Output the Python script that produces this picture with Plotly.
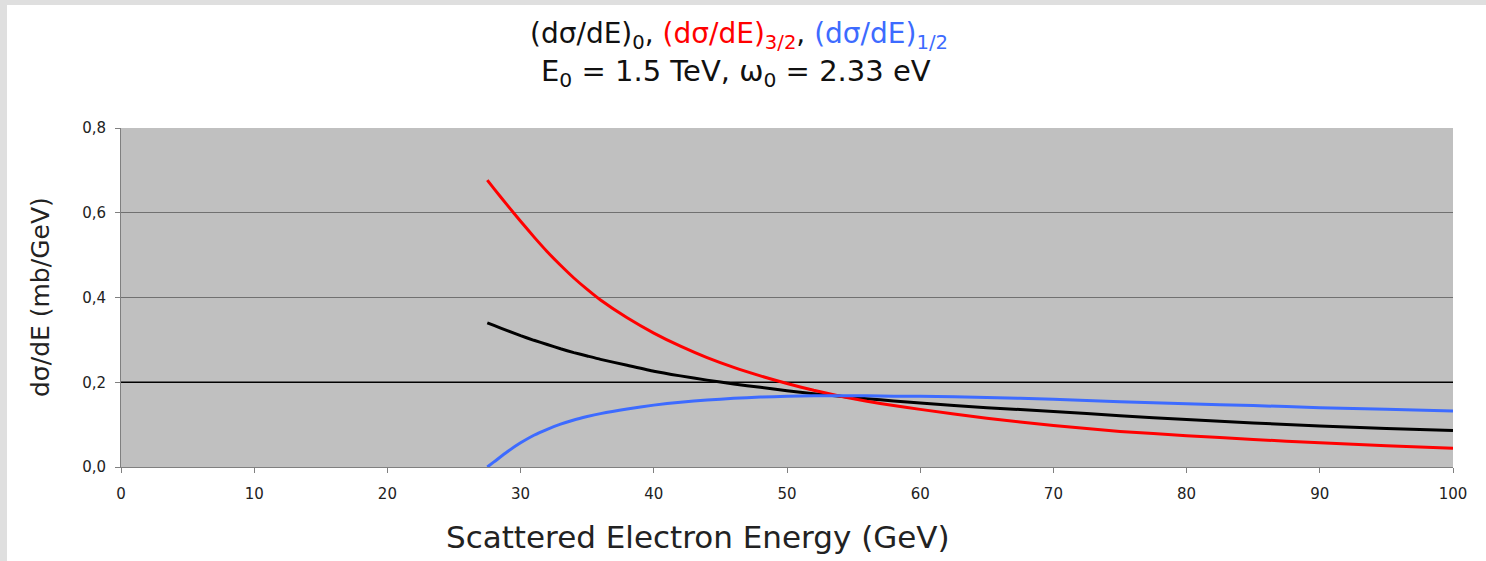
import plotly.graph_objects as go

energy = [27.5, 28, 29, 30, 31, 32, 33, 34, 35, 36, 38, 40, 42, 44, 46, 48, 50,
          52, 54, 56, 58, 60, 65, 70, 75, 80, 85, 90, 95, 100]
sigma_0 = [0.340, 0.334, 0.322, 0.310, 0.299, 0.289, 0.279, 0.270, 0.262, 0.254,
           0.240, 0.226, 0.215, 0.205, 0.196, 0.188, 0.180, 0.173, 0.167, 0.161,
           0.156, 0.151, 0.140, 0.131, 0.121, 0.112, 0.104, 0.097, 0.091, 0.086]
sigma_32 = [0.677, 0.657, 0.618, 0.580, 0.543, 0.508, 0.476, 0.446, 0.419, 0.394,
            0.352, 0.316, 0.285, 0.258, 0.235, 0.215, 0.197, 0.181, 0.167, 0.155,
            0.145, 0.136, 0.115, 0.098, 0.084, 0.074, 0.065, 0.057, 0.050, 0.044]
sigma_12 = [0.000, 0.012, 0.036, 0.057, 0.075, 0.089, 0.101, 0.111, 0.119, 0.126,
            0.137, 0.146, 0.153, 0.158, 0.162, 0.165, 0.167, 0.168, 0.168, 0.168,
            0.167, 0.167, 0.164, 0.160, 0.154, 0.149, 0.145, 0.140, 0.136, 0.132]

x_ticks = list(range(0, 101, 10))
y_ticks = [0.0, 0.2, 0.4, 0.6, 0.8]
ref_level = y_ticks[1]  # the darker reference line at 0,2

RED = "#ff0000"
BLUE = "#3d6bff"
FONT = "DejaVu Sans, Liberation Sans, Arial, sans-serif"

W, H = 1486, 561
ML, MR, MT, MB = 121, 33, 128, 94
PW, PH = W - ML - MR, H - MT - MB

def px_x(p):
    return (p - ML) / PW

def px_y(p):
    return (H - MB - p) / PH

fig = go.Figure()
# dark reference gridline drawn first, beneath the curves
fig.add_trace(go.Scatter(x=[x_ticks[0], x_ticks[-1]], y=[ref_level, ref_level],
                         mode="lines", line=dict(color="#000000", width=1.3),
                         hoverinfo="skip", name="ref"))
line_style = dict(width=3, shape="spline", smoothing=0.5)
fig.add_trace(go.Scatter(x=energy, y=sigma_0, mode="lines",
                         line=dict(color="#000000", **line_style), name="0"))
fig.add_trace(go.Scatter(x=energy, y=sigma_32, mode="lines",
                         line=dict(color=RED, **line_style), name="3/2"))
fig.add_trace(go.Scatter(x=energy, y=sigma_12, mode="lines",
                         line=dict(color=BLUE, **line_style), name="1/2"))

title1 = ("(dσ/dE)<sub>0</sub>, "
          f"<span style='color:{RED}'>(dσ/dE)<sub>3/2</sub></span>, "
          f"<span style='color:{BLUE}'>(dσ/dE)<sub>1/2</sub></span>")
title2 = "E<sub>0</sub> = 1.5 TeV, ω<sub>0</sub> = 2.33 eV"

annotations = [
    dict(text=title1, x=px_x(739), y=px_y(36), xref="paper", yref="paper",
         showarrow=False, font=dict(size=28, color="#111111", family=FONT),
         xanchor="center", yanchor="middle"),
    dict(text=title2, x=px_x(736), y=px_y(73), xref="paper", yref="paper",
         showarrow=False, font=dict(size=29, color="#111111", family=FONT),
         xanchor="center", yanchor="middle"),
    dict(text="Scattered Electron Energy (GeV)", x=px_x(698), y=px_y(537),
         xref="paper", yref="paper", showarrow=False,
         font=dict(size=31, color="#222222", family=FONT),
         xanchor="center", yanchor="middle"),
    dict(text="dσ/dE (mb/GeV)", x=px_x(40), y=px_y(297), xref="paper",
         yref="paper", showarrow=False, textangle=-90,
         font=dict(size=25, color="#222222", family=FONT),
         xanchor="center", yanchor="middle"),
]

fig.update_layout(
    width=W, height=H,
    margin=dict(l=ML, r=MR, t=MT, b=MB),
    paper_bgcolor="#ffffff",
    plot_bgcolor="#c0c0c0",
    showlegend=False,
    separators=", ",
    font=dict(family=FONT, size=14, color="#222222"),
    annotations=annotations,
)
fig.update_xaxes(range=[0, 100], tickvals=x_ticks, showgrid=False,
                 zeroline=False, showline=True, linecolor="#808080", linewidth=1,
                 ticks="outside", ticklen=5, tickcolor="#808080",
                 ticklabelstandoff=8,
                 tickfont=dict(size=15, color="#222222", family=FONT))
fig.update_yaxes(range=[0, 0.8], tickvals=y_ticks, tickformat=".1f",
                 showgrid=True, gridcolor="#707070", gridwidth=1,
                 zeroline=False, showline=True, linecolor="#808080", linewidth=1,
                 ticks="outside", ticklen=5, tickcolor="#808080",
                 ticklabelstandoff=6,
                 tickfont=dict(size=15, color="#222222", family=FONT))

# page tweaks: no body margin, thin grey frame on top and left edges
post = (
    "document.body.style.margin='0px';"
    "document.body.style.padding='0px';"
    "document.body.style.overflow='hidden';"
    "var t=document.createElement('div');"
    "t.style.cssText='position:fixed;left:0;top:0;width:100%;height:5px;"
    "background:#dfdfdf;z-index:10;pointer-events:none';"
    "document.body.appendChild(t);"
    "var l=document.createElement('div');"
    "l.style.cssText='position:fixed;left:0;top:0;width:7px;height:100%;"
    "background:#dfdfdf;z-index:10;pointer-events:none';"
    "document.body.appendChild(l);"
)

fig.write_html("out.html", config={"displayModeBar": False}, post_script=post)
